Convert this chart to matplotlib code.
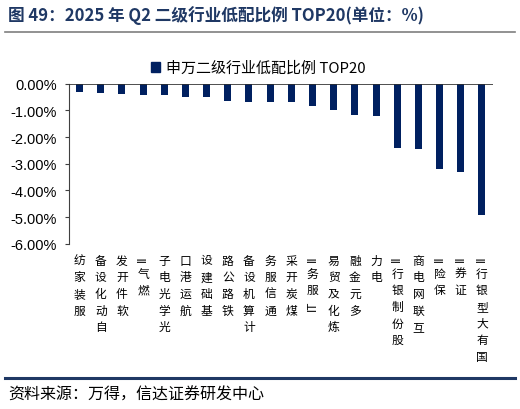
import re
import matplotlib
matplotlib.use("Agg")
import matplotlib.pyplot as plt
from matplotlib.lines import Line2D

plt.rcParams['font.family'] = ['Noto Sans CJK SC', 'DejaVu Sans']

categories = ['服装家纺', '自动化设备', '软件开发', '燃气II', '光学光电子', '航运港口', '基础建设',
              '铁路公路', '计算机设备', '通信服务', '煤炭开采', 'IT服务II', '炼化及贸易', '多元金融',
              '电力', '股份制银行II', '互联网电商', '保险II', '证券II', '国有大型银行II']
values = [-0.32, -0.35, -0.39, -0.41, -0.44, -0.49, -0.51, -0.65, -0.68, -0.68,
          -0.70, -0.85, -1.00, -1.16, -1.22, -2.41, -2.46, -3.21, -3.31, -4.94]
yticks = [0, -1, -2, -3, -4, -5, -6]
ytick_labels = ['0.00%', '-1.00%', '-2.00%', '-3.00%', '-4.00%', '-5.00%', '-6.00%']
series_name = '申万二级行业低配比例 TOP20'
title = '图 49：2025 年 Q2 二级行业低配比例 TOP20(单位：%)'
source = '资料来源：万得，信达证券研发中心'

BAR = '#002060'
NAVY = '#1F3864'
W, H = 520, 410

fig = plt.figure(figsize=(5.2, 4.1), dpi=100)
ax = fig.add_axes([69 / W, 1 - 244.7 / H, (492.5 - 69) / W, (244.7 - 84.7) / H])

x = list(range(len(categories)))
ax.bar(x, values, width=0.33, color=BAR, label=series_name, zorder=2)
ax.set_xlim(-0.5, len(categories) - 0.5)
ax.set_ylim(-6, 0)
ax.set_yticks(yticks)
ax.set_yticklabels(ytick_labels, fontsize=10.5, family=['Liberation Sans', 'DejaVu Sans'])
ax.tick_params(axis='y', length=3, width=0.8, pad=6, colors='#404040', labelcolor='black')
ax.set_xticks([])
for s in ['right', 'bottom', 'top']:
    ax.spines[s].set_visible(False)
ax.spines['left'].set_color('#404040')
ax.axhline(0, color='#303030', lw=1.2, zorder=3)

# vertical stacked category labels (read bottom to top, end aligned at top)
trans = ax.get_xaxis_transform()
px2pt = 0.72
for i, lab in enumerate(categories):
    tokens = re.findall(r'[A-Za-z]+|.', lab)
    cur = 8.0
    for tok in reversed(tokens):
        latin = tok.isascii()
        h = 5 + 4 * len(tok) if latin else 16.7
        c = cur + h / 2
        ax.annotate(tok, xy=(i, 0), xycoords=trans, xytext=(0, -c * px2pt),
                    textcoords='offset points', ha='center', va='center',
                    rotation=90 if latin else 0, fontsize=8.5, color='black',
                    family=['Liberation Sans', 'DejaVu Sans'] if latin else ['Noto Sans CJK SC', 'DejaVu Sans'],
                    annotation_clip=False)
        cur += h

# legend
fig.legend(handles=[plt.Rectangle((0, 0), 1, 1, color=BAR)], labels=[series_name],
           loc='center', bbox_to_anchor=(258 / W, 1 - 69 / H), frameon=False,
           handlelength=0.6, handleheight=0.6, handletextpad=0.4, fontsize=10.8)

# title and decorations
fig.text(8 / W, 1 - 16 / H, title, fontsize=12, fontweight='bold', color=NAVY,
         va='center', ha='left')
fig.add_artist(Line2D([5 / W, 515 / W], [1 - 33 / H] * 2, color='#7F7F7F', lw=1.2))
fig.add_artist(Line2D([5 / W, 515 / W], [1 - 379 / H] * 2, color=NAVY, lw=2.2))
fig.text(8 / W, 1 - 395 / H, source, fontsize=11.5, style='italic', color='black',
         va='center', ha='left')

fig.savefig('out.png', dpi=100)
